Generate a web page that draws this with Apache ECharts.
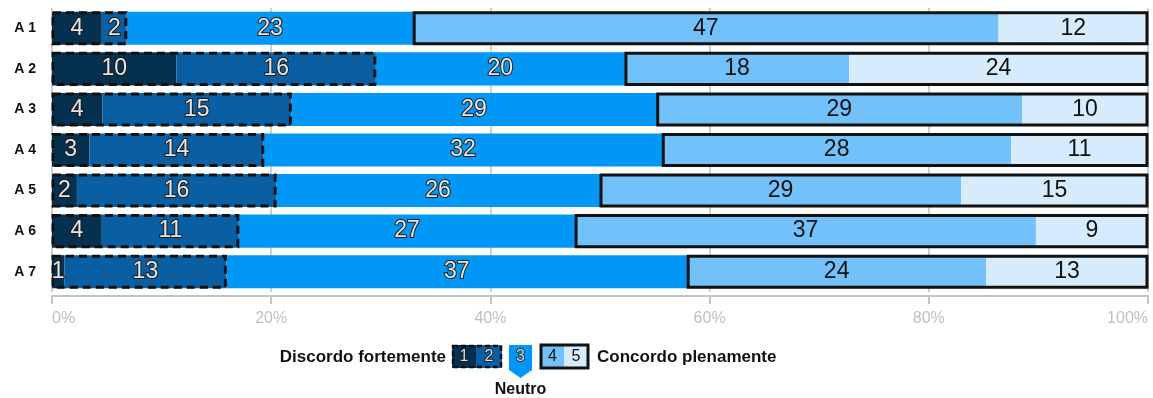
<!DOCTYPE html>
<html><head><meta charset="utf-8">
<script src="https://cdn.jsdelivr.net/npm/echarts@6/dist/echarts.min.js"></script>
<style>html,body{margin:0;padding:0;background:#fff}#c{width:1153px;height:398px}</style>
</head><body><div id="c"></div>
<script>
var categories = ['A 1','A 2','A 3','A 4','A 5','A 6','A 7'];
var s1 = [4, 10, 4, 3, 2, 4, 1];
var s2 = [2, 16, 15, 14, 16, 11, 13];
var s3 = [23, 20, 29, 32, 26, 27, 37];
var s4 = [47, 18, 29, 28, 29, 37, 24];
var s5 = [12, 24, 10, 11, 15, 9, 13];
var tickLabels = ['0%','20%','40%','60%','80%','100%'];
var colors = ['#06304f','#0a5ea2','#0097f6','#72c1fa','#d6ebfc'];

var all = [s1,s2,s3,s4,s5];
var totals = categories.map(function(_, i){ return all.reduce(function(a, s){ return a + s[i]; }, 0); });
function pct(s){ return s.map(function(v, i){ return {value: v / totals[i] * 100, raw: v}; }); }

var FONT = '"Liberation Sans", Arial, sans-serif';
var outLbl = {show:true, position:'inside', fontFamily:FONT, fontSize:23, color:'#e6e6e6', textBorderColor:'#1a1a1a', textBorderWidth:2, formatter:function(p){return p.data.raw;}};
var blkLbl = {show:true, position:'inside', fontFamily:FONT, fontSize:23, color:'#111', formatter:function(p){return p.data.raw;}};

var series = all.map(function(s, k){
  return {type:'bar', stack:'t', barCategoryGap:'18.5%', data:pct(s), itemStyle:{color:colors[k]},
    label: k < 3 ? outLbl : blkLbl, silent:true, z:2};
});

var disagreeBox = categories.map(function(_, i){ return [0, (s1[i]+s2[i])/totals[i]*100, i]; });
var agreeBox = categories.map(function(_, i){ return [(s1[i]+s2[i]+s3[i])/totals[i]*100, 100, i]; });
function boxSeries(data, dashed){
  return {type:'custom', data:data, encode:{x:[0,1], y:2}, z:5, silent:true,
    renderItem:function(params, api){
      var a = api.coord([api.value(0), api.value(2)]);
      var b = api.coord([api.value(1), api.value(2)]);
      var h = api.size([0,1])[1] * 0.815;
      return {type:'rect', shape:{x:a[0]+1, y:a[1]-h/2+1, width:b[0]-a[0]-2, height:h-2},
        style:{fill:null, stroke:'#111', lineWidth:3, lineDash: dashed ? [8,5] : null}};
    }};
}
series.push(boxSeries(disagreeBox, true));
series.push(boxSeries(agreeBox, false));

var lgY = 345;
var graphic = [
  {type:'text', x:446, y:357, style:{text:'Discordo fortemente', font:'bold 17px '+FONT, fill:'#111', align:'right', verticalAlign:'middle'}},
  {type:'rect', shape:{x:452,y:lgY,width:24,height:23}, style:{fill:colors[0]}},
  {type:'rect', shape:{x:476,y:lgY,width:26,height:23}, style:{fill:colors[1]}},
  {type:'rect', shape:{x:453,y:lgY+1,width:48,height:21}, style:{fill:null, stroke:'#111', lineWidth:2.5, lineDash:[5,3]}},
  {type:'text', x:464, y:lgY+12, style:{text:'1', font:'16px '+FONT, fill:'#ddd', stroke:'#111', lineWidth:1.5, align:'center', verticalAlign:'middle'}},
  {type:'text', x:489, y:lgY+12, style:{text:'2', font:'16px '+FONT, fill:'#ddd', stroke:'#111', lineWidth:1.5, align:'center', verticalAlign:'middle'}},
  {type:'polygon', shape:{points:[[509,lgY],[532,lgY],[532,lgY+25],[520.5,lgY+33],[509,lgY+25]]}, style:{fill:colors[2]}},
  {type:'text', x:520.5, y:lgY+12, style:{text:'3', font:'16px '+FONT, fill:'#ddd', stroke:'#111', lineWidth:1.5, align:'center', verticalAlign:'middle'}},
  {type:'rect', shape:{x:541,y:lgY,width:23,height:23}, style:{fill:colors[3]}},
  {type:'rect', shape:{x:564,y:lgY,width:24,height:23}, style:{fill:colors[4]}},
  {type:'rect', shape:{x:541,y:lgY,width:47,height:23}, style:{fill:null, stroke:'#111', lineWidth:3}},
  {type:'text', x:552.5, y:lgY+12, style:{text:'4', font:'16px '+FONT, fill:'#111', align:'center', verticalAlign:'middle'}},
  {type:'text', x:576, y:lgY+12, style:{text:'5', font:'16px '+FONT, fill:'#111', align:'center', verticalAlign:'middle'}},
  {type:'text', x:597, y:357, style:{text:'Concordo plenamente', font:'bold 17px '+FONT, fill:'#111', align:'left', verticalAlign:'middle'}},
  {type:'text', x:520.5, y:390, style:{text:'Neutro', font:'bold 16px '+FONT, fill:'#111', align:'center', verticalAlign:'middle'}}
];

var chart = echarts.init(document.getElementById('c'), null, {renderer:'canvas'});
chart.setOption({
  animation:false,
  grid:{left:52, right:5, top:8, bottom:106, containLabel:false},
  xAxis:{type:'value', min:0, max:100, interval:20,
    axisLine:{show:true, onZero:false, lineStyle:{color:'#c4c4c4', width:2}},
    offset:4,
    axisTick:{show:true, length:8, lineStyle:{color:'#c4c4c4', width:2}},
    splitLine:{show:true, lineStyle:{color:'#d0d0d0', width:2}},
    axisLabel:{fontFamily:FONT, fontSize:16, color:'#c0c0c0', margin:15, alignMinLabel:'left', alignMaxLabel:'right',
      formatter:function(v){ return tickLabels[Math.round(v/20)]; }}
  },
  yAxis:{type:'category', data:categories, inverse:true,
    axisLine:{show:false}, axisTick:{show:false},
    axisLabel:{fontFamily:FONT, fontSize:14, fontWeight:'bold', color:'#111', margin:16}
  },
  series:series,
  graphic:graphic
});
</script></body></html>
